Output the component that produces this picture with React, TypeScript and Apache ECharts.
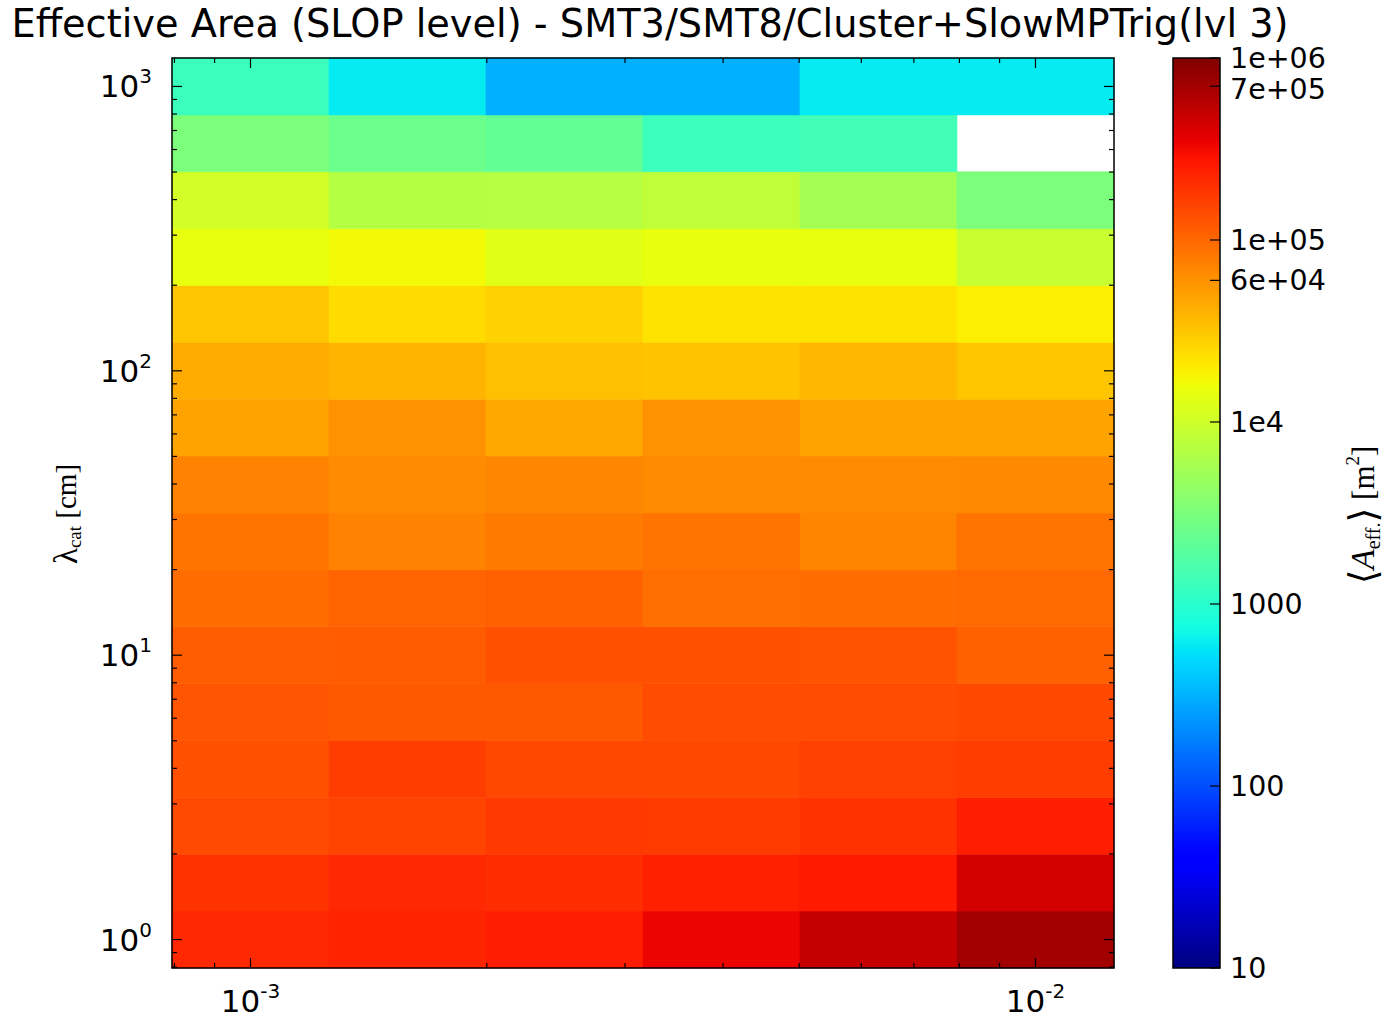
import React, { useEffect, useRef } from "react";
import * as echarts from "echarts";

// Bin edges (log-spaced bins, 0.2 decade wide)
const xEdges = [7.943e-4, 1.259e-3, 1.995e-3, 3.162e-3, 5.012e-3, 7.943e-3, 1.259e-2];
const yEdges = [0.7943, 1.259, 1.995, 3.162, 5.012, 7.943, 12.59, 19.95, 31.62, 50.12, 79.43, 125.9, 199.5, 316.2, 501.2, 794.3, 1259];

// <A_eff> [m^2]; rows from lambda = 1 cm (bottom) to 1000 cm (top), columns left to right
const row00 = [219000, 229000, 251000, 339000, 501000, 708000];
const row02 = [190000, 219000, 204000, 240000, 257000, 437000];
const row04 = [145000, 155000, 178000, 174000, 190000, 245000];
const row06 = [132000, 170000, 148000, 148000, 162000, 170000];
const row08 = [126000, 120000, 120000, 141000, 141000, 148000];
const row10 = [112000, 115000, 132000, 132000, 129000, 110000];
const row12 = [95000, 105000, 110000, 93000, 95000, 98000];
const row14 = [85000, 72000, 79000, 87000, 71000, 87000];
const row16 = [72000, 65000, 69000, 65000, 65000, 66000];
const row18 = [49000, 60000, 46000, 60000, 49000, 49000];
const row20 = [44000, 39000, 34000, 33000, 38000, 31600];
const row22 = [32000, 24500, 27500, 22400, 22400, 19000];
const row24 = [14500, 16600, 12900, 14500, 14500, 9100];
const row26 = [10500, 7100, 7200, 8300, 5600, 3200];
const row28 = [3200, 2500, 2200, 1260, 1400, null];
const row30 = [1260, 600, 310, 310, 600, 600];
const aEffRows = [row00, row02, row04, row06, row08, row10, row12, row14, row16, row18, row20, row22, row24, row26, row28, row30];

const xMajorTicks = [1e-3, 1e-2];
const xMinorTicks = [8e-4, 9e-4, 2e-3, 3e-3, 4e-3, 5e-3, 6e-3, 7e-3, 8e-3, 9e-3];
const yMajorTicks = [1, 10, 100, 1000];
const yMinorTicks = [0.8, 0.9, 2, 3, 4, 5, 6, 7, 8, 9, 20, 30, 40, 50, 60, 70, 80, 90, 200, 300, 400, 500, 600, 700, 800, 900];

const cbMin = 10;
const cbMax = 1e6;
const cbTicks = [10, 100, 1000, 1e4, 6e4, 1e5, 7e5, 1e6];
const cbLabels = ["10", "100", "1000", "1e4", "6e+04", "1e+05", "7e+05", "1e+06"];

const titleText = "Effective Area (SLOP level) - SMT3/SMT8/Cluster+SlowMPTrig(lvl 3)";

// matplotlib "jet" colormap definition
function interp(t: number, pts: number[][]) {
  for (let i = 1; i < pts.length; i++) {
    if (t <= pts[i][0]) {
      const [a, va] = pts[i - 1];
      const [b, vb] = pts[i];
      return va + ((vb - va) * (t - a)) / (b - a);
    }
  }
  return pts[pts.length - 1][1];
}
function jet(t: number) {
  const r = interp(t, [[0, 0], [0.35, 0], [0.66, 1], [0.89, 1], [1, 0.5]]);
  const g = interp(t, [[0, 0], [0.125, 0], [0.375, 1], [0.64, 1], [0.91, 0], [1, 0]]);
  const b = interp(t, [[0, 0.5], [0.11, 1], [0.34, 1], [0.65, 0], [1, 0]]);
  const h = (v: number) => Math.round(Math.max(0, Math.min(1, v)) * 255).toString(16).padStart(2, "0");
  return "#" + h(r) + h(g) + h(b);
}
const JET_N = 101;
const jetColors: string[] = [];
for (let i = 0; i < JET_N; i++) jetColors.push(jet(i / (JET_N - 1)));

const FONT = "DejaVu Sans";
const SERIF = "Liberation Serif";

export default function App() {
  const ref = useRef<HTMLDivElement>(null);
  useEffect(() => {
    if (!ref.current) return;
    const chart = echarts.init(ref.current, null, { renderer: "svg" });

    const cells: number[][] = [];
    aEffRows.forEach((row, r) => {
      row.forEach((v, c) => {
        if (v == null) return;
        cells.push([xEdges[c], xEdges[c + 1], yEdges[r], yEdges[r + 1], Math.log10(v)]);
      });
    });

    const powLabel = (v: number) => {
      const e = Math.log10(v);
      if (Math.abs(e - Math.round(e)) > 1e-6) return "";
      return `{b|10}{s|${Math.round(e)}}`;
    };
    const labelRich = {
      b: { fontSize: 31, fontFamily: FONT, color: "#000", lineHeight: 40 },
      s: { fontSize: 20, fontFamily: FONT, color: "#000", lineHeight: 22, verticalAlign: "top" },
    };

    const option: any = {
      animation: false,
      backgroundColor: "#fff",
      grid: [
        { left: 172, top: 58, width: 942, height: 910, outerBoundsMode: "none" },
        { left: 1173, top: 58, width: 47, height: 910, outerBoundsMode: "none" },
      ],
      xAxis: [
        {
          type: "log",
          gridIndex: 0,
          logBase: 10,
          min: xEdges[0],
          max: xEdges[xEdges.length - 1],
          axisLine: { show: false },
          axisTick: { show: false },
          splitLine: { show: false },
          axisLabel: { margin: 13, formatter: powLabel, rich: labelRich, showMinLabel: true, showMaxLabel: true },
        },
        { type: "value", gridIndex: 1, min: 0, max: 1, show: false },
      ],
      yAxis: [
        {
          type: "log",
          gridIndex: 0,
          logBase: 10,
          min: yEdges[0],
          max: yEdges[yEdges.length - 1],
          axisLine: { show: false },
          axisTick: { show: false },
          splitLine: { show: false },
          axisLabel: { margin: 20, formatter: powLabel, rich: labelRich, showMinLabel: true, showMaxLabel: true },
        },
        { type: "log", gridIndex: 1, logBase: 10, min: cbMin, max: cbMax, show: false },
      ],
      visualMap: {
        type: "continuous",
        show: false,
        seriesIndex: 0,
        dimension: 4,
        min: Math.log10(cbMin),
        max: Math.log10(cbMax),
        inRange: { color: jetColors },
      },
      series: [
        {
          type: "custom",
          coordinateSystem: "cartesian2d",
          xAxisIndex: 0,
          yAxisIndex: 0,
          data: cells,
          encode: { x: [0, 1], y: [2, 3] },
          z: 2,
          renderItem: (params: any, api: any) => {
            const p0 = api.coord([api.value(0), api.value(2)]);
            const p1 = api.coord([api.value(1), api.value(3)]);
            const color = api.visual("color");
            return {
              type: "rect",
              shape: { x: p0[0], y: p1[1], width: p1[0] - p0[0], height: p0[1] - p1[1] },
              style: { fill: color, stroke: color, lineWidth: 0.6 },
            };
          },
        },
        {
          type: "custom",
          coordinateSystem: "cartesian2d",
          xAxisIndex: 0,
          yAxisIndex: 0,
          data: [[xEdges[0], yEdges[0]]],
          z: 5,
          silent: true,
          renderItem: (params: any, api: any) => {
            const x0 = xEdges[0];
            const x1 = xEdges[xEdges.length - 1];
            const y0 = yEdges[0];
            const y1 = yEdges[yEdges.length - 1];
            const bl = api.coord([x0, y0]);
            const tr = api.coord([x1, y1]);
            const left = bl[0], bottom = bl[1], right = tr[0], top = tr[1];
            const children: any[] = [];
            const st = { stroke: "#000", lineWidth: 1.2 };
            const xt = (v: number, len: number) => {
              const px = api.coord([v, y0])[0];
              children.push({ type: "line", shape: { x1: px, y1: bottom, x2: px, y2: bottom - len }, style: st });
              children.push({ type: "line", shape: { x1: px, y1: top, x2: px, y2: top + len }, style: st });
            };
            const yt = (v: number, len: number) => {
              const py = api.coord([x0, v])[1];
              children.push({ type: "line", shape: { x1: left, y1: py, x2: left + len, y2: py }, style: st });
              children.push({ type: "line", shape: { x1: right, y1: py, x2: right - len, y2: py }, style: st });
            };
            xMajorTicks.forEach((v) => xt(v, 10));
            xMinorTicks.forEach((v) => xt(v, 5));
            yMajorTicks.forEach((v) => yt(v, 10));
            yMinorTicks.forEach((v) => yt(v, 5));
            children.push({
              type: "rect",
              shape: { x: left, y: top, width: right - left, height: bottom - top },
              style: { fill: "none", stroke: "#000", lineWidth: 1.5 },
            });
            return { type: "group", children };
          },
        },
        {
          type: "custom",
          coordinateSystem: "cartesian2d",
          xAxisIndex: 1,
          yAxisIndex: 1,
          data: [[0, cbMin]],
          z: 5,
          silent: true,
          renderItem: (params: any, api: any) => {
            const b = api.coord([0, cbMin]);
            const t = api.coord([1, cbMax]);
            const left = b[0], bottom = b[1], right = t[0], top = t[1];
            const stops = jetColors.map((c, i) => ({ offset: i / (jetColors.length - 1), color: c }));
            const children: any[] = [
              {
                type: "rect",
                shape: { x: left, y: top, width: right - left, height: bottom - top },
                style: { fill: new echarts.graphic.LinearGradient(0, 1, 0, 0, stops) },
              },
            ];
            cbTicks.forEach((v, i) => {
              const py = api.coord([0, v])[1];
              // nudge the crowded 7e+05 label down slightly so it clears 1e+06
              const nudge = v === 7e5 ? 3 : 0;
              children.push({
                type: "line",
                shape: { x1: right - 10, y1: py, x2: right, y2: py },
                style: { stroke: "#000", lineWidth: 1.2 },
              });
              children.push({
                type: "text",
                x: right + 10,
                y: py + nudge,
                style: {
                  text: cbLabels[i],
                  fill: "#000",
                  font: `28.5px "${FONT}"`,
                  lineHeight: 25,
                  align: "left",
                  verticalAlign: "middle",
                },
              });
            });
            children.push({
              type: "rect",
              shape: { x: left, y: top, width: right - left, height: bottom - top },
              style: { fill: "none", stroke: "#000", lineWidth: 1.5 },
            });
            return { type: "group", children };
          },
        },
      ],
      graphic: [
        {
          type: "text",
          x: 650,
          y: 23,
          style: {
            text: titleText,
            fill: "#000",
            font: `38.3px "${FONT}"`,
            align: "center",
            verticalAlign: "middle",
          },
        },
        {
          type: "text",
          x: 66,
          y: 514,
          rotation: Math.PI / 2,
          style: {
            text: "{l|λ}{c|cat}{n| [cm]}",
            align: "center",
            verticalAlign: "middle",
            rich: {
              l: { fontSize: 33, fontFamily: SERIF, fill: "#000", lineHeight: 36 },
              c: { fontSize: 19, fontFamily: SERIF, fill: "#000", lineHeight: 21, verticalAlign: "bottom" },
              n: { fontSize: 29, fontFamily: SERIF, fill: "#000", lineHeight: 36 },
            },
          },
        },
        {
          type: "text",
          x: 1363,
          y: 515,
          rotation: Math.PI / 2,
          style: {
            text: "{b|⟨}{a|A}{c|eff.}{b|⟩}{n| [m}{p|2}{n|]}",
            align: "center",
            verticalAlign: "middle",
            rich: {
              b: { fontSize: 38, fontFamily: "DejaVu Serif", fill: "#000", lineHeight: 40 },
              a: { fontSize: 33, fontFamily: SERIF, fontStyle: "italic", fill: "#000", lineHeight: 40 },
              c: { fontSize: 20, fontFamily: SERIF, fill: "#000", lineHeight: 24, verticalAlign: "bottom" },
              n: { fontSize: 31, fontFamily: SERIF, fill: "#000", lineHeight: 40 },
              p: { fontSize: 19, fontFamily: SERIF, fill: "#000", lineHeight: 24, verticalAlign: "top" },
            },
          },
        },
      ],
    };

    chart.setOption(option);
    return () => chart.dispose();
  }, []);

  return (
    <div
      ref={ref}
      style={{ position: "fixed", left: 0, top: 0, width: 1389, height: 1018, background: "#fff" }}
    />
  );
}
